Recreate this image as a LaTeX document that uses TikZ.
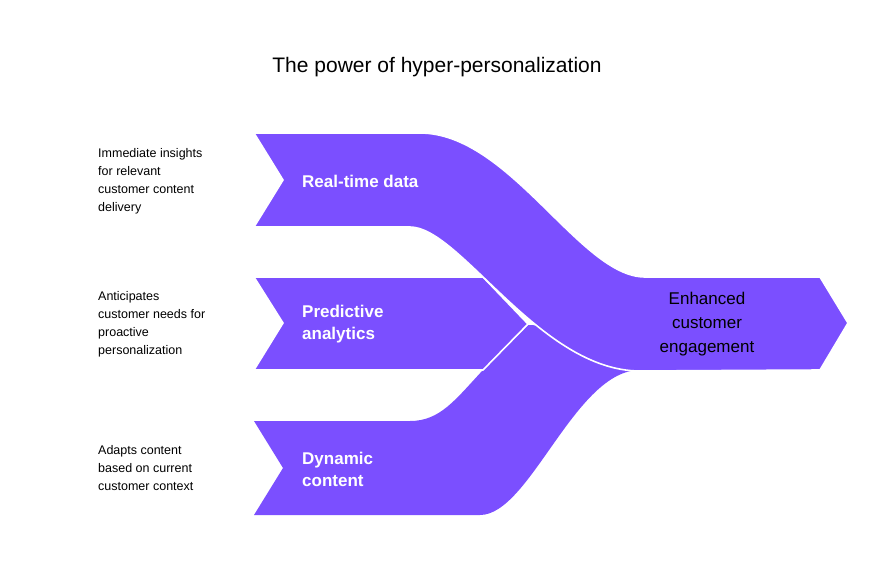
\documentclass[tikz,border=0pt]{standalone}
\usepackage{fontspec}
\setmainfont{Liberation Sans}
\definecolor{band}{HTML}{7B4FFF}
\begin{document}
\begin{tikzpicture}[x=1pt,y=-1pt,
  bandfill/.style={fill=band,draw=white,line width=1.6pt,line join=miter},
  lbl/.style={text=white,font=\fontsize{17}{22}\selectfont\bfseries,align=left,anchor=west,inner sep=0},
  desc/.style={font=\fontsize{12.5}{18}\selectfont,align=left,anchor=west,inner sep=0}]
\useasboundingbox (0,0) rectangle (875,564);
\node[font=\fontsize{21}{26}\selectfont] (title) at (437,67) {The power of hyper-personalization};
% bottom band
\fill[band] (254,421) -- (283,468) -- (254,515) -- (480,515) .. controls (530,515) and (575,370) .. (640,370) -- (640,330) -- (528,325) -- (483,370) .. controls (455,400) and (440,421) .. (410,421) -- cycle;
% middle band
\path[bandfill] (254,277) -- (483,277) -- (528,324) -- (483,370) -- (254,370) -- (283,323) -- cycle;
% top band
\path[bandfill] (254,133) -- (420,133) .. controls (510,133) and (580,277) .. (645,277) -- (820,277) -- (848,323) -- (820,370) -- (640,371) .. controls (540,371) and (460,227) .. (410,227) -- (254,227) -- (283,180) -- cycle;
\node[lbl] (rt) at (302,181) {Real-time data};
\node[lbl] (pa) at (302,324) {Predictive\\analytics};
\node[lbl] (dc) at (302,469) {Dynamic\\content};
\node[font=\fontsize{17}{24}\selectfont,align=center,inner sep=0] (ec) at (707,324) {Enhanced\\customer\\engagement};
\node[desc] (d1) at (98,181) {Immediate insights\\for relevant\\customer content\\delivery};
\node[desc] (d2) at (98,324) {Anticipates\\customer needs for\\proactive\\personalization};
\node[desc] (d3) at (98,468) {Adapts content\\based on current\\customer context};
\end{tikzpicture}
\end{document}
